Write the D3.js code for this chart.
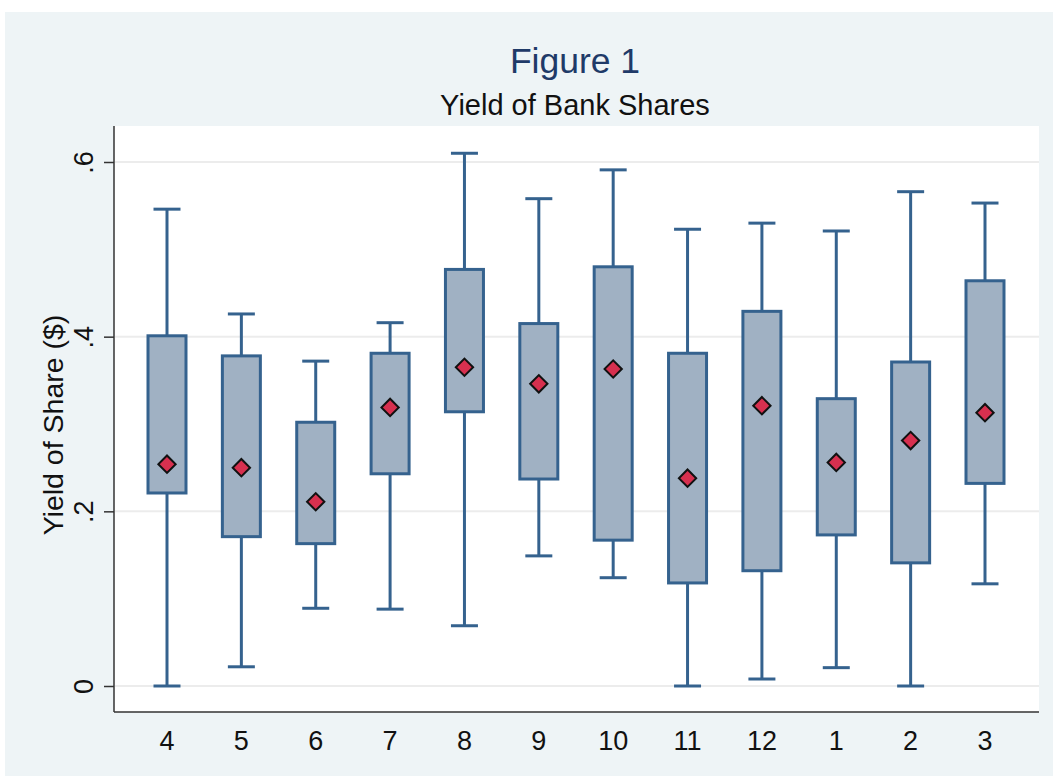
<!DOCTYPE html>
<html>
<head>
<meta charset="utf-8">
<script src="https://cdn.jsdelivr.net/npm/d3@7"></script>
<style>
  body { margin: 0; background: #fff; }
  text { font-family: "Liberation Sans", Arial, sans-serif; }
</style>
</head>
<body>
<div id="chart"></div>
<script>
// months in fiscal order
const months = ["4", "5", "6", "7", "8", "9", "10", "11", "12", "1", "2", "3"];
const whiskerLow  = [0, 0.022, 0.089, 0.088, 0.069, 0.149, 0.124, 0, 0.008, 0.021, 0, 0.117];
const q1          = [0.221, 0.171, 0.163, 0.243, 0.314, 0.237, 0.167, 0.118, 0.132, 0.173, 0.141, 0.232];
const q3          = [0.401, 0.378, 0.302, 0.381, 0.477, 0.415, 0.480, 0.381, 0.429, 0.329, 0.371, 0.464];
const whiskerHigh = [0.546, 0.426, 0.372, 0.416, 0.610, 0.558, 0.591, 0.523, 0.530, 0.521, 0.566, 0.553];
const means       = [0.254, 0.250, 0.211, 0.319, 0.365, 0.346, 0.363, 0.238, 0.321, 0.256, 0.281, 0.313];
const yTicks = [0, 0.2, 0.4, 0.6];

const width = 1053, height = 776;
const margin = {top: 126, right: 14, bottom: 64, left: 114};

const svg = d3.select("#chart")
  .append("svg")
    .attr("width", width)
    .attr("height", height);

// outer graph region
svg.append("rect")
  .attr("x", 5).attr("y", 12)
  .attr("width", width - 5).attr("height", height - 12)
  .attr("fill", "#eef4f6");

svg.append("rect")
  .attr("x", margin.left).attr("y", margin.top)
  .attr("width", width - margin.left - margin.right)
  .attr("height", height - margin.top - margin.bottom)
  .attr("fill", "#fff");

const x = d3.scaleBand()
  .domain(months)
  .range([148, 1004])
  .paddingInner(0.489)
  .paddingOuter(0);

const y = d3.scaleLinear()
  .domain([0, 0.6])
  .range([686, 162]);

// gridlines
svg.append("g")
  .selectAll("line")
  .data(yTicks)
  .join("line")
    .attr("x1", margin.left + 1)
    .attr("x2", width - margin.right)
    .attr("y1", d => y(d))
    .attr("y2", d => y(d))
    .attr("stroke", "#ececec")
    .attr("stroke-width", 2);

// y axis
const yAxis = svg.append("g")
  .attr("transform", `translate(${margin.left},0)`)
  .call(d3.axisLeft(y)
          .tickValues(yTicks)
          .tickSize(10)
          .tickPadding(0)
          .tickFormat(d => d === 0 ? "0" : d3.format(".1f")(d).replace(/^0/, "")));
yAxis.attr("font-size", null).attr("font-family", null);
yAxis.select(".domain")
  .attr("d", `M0,${margin.top}V${height - margin.bottom}`)
  .attr("stroke", "#333").attr("stroke-width", 1.5);
yAxis.selectAll(".tick line").attr("stroke", "#333").attr("stroke-width", 1.5);
yAxis.selectAll(".tick text")
  .attr("x", 0).attr("dy", 0)
  .attr("transform", "translate(-21,0) rotate(-90)")
  .attr("text-anchor", "middle")
  .attr("fill", "#111")
  .style("font-size", "27px");

// x axis
const xAxis = svg.append("g")
  .attr("transform", `translate(0,${height - margin.bottom})`)
  .call(d3.axisBottom(x).tickSize(0).tickPadding(0));
xAxis.attr("font-size", null).attr("font-family", null);
xAxis.select(".domain")
  .attr("d", `M${margin.left},0H${width - margin.right}`)
  .attr("stroke", "#333").attr("stroke-width", 1.5);
xAxis.selectAll(".tick text")
  .attr("y", 38).attr("dy", 0)
  .attr("fill", "#111")
  .style("font-size", "27px");

// titles
svg.append("text")
  .attr("x", 575).attr("y", 73)
  .attr("text-anchor", "middle")
  .style("font-size", "35.5px")
  .attr("fill", "#1f3a68")
  .text("Figure 1");

svg.append("text")
  .attr("x", 575).attr("y", 115)
  .attr("text-anchor", "middle")
  .style("font-size", "29px")
  .attr("fill", "#111")
  .text("Yield of Bank Shares");

svg.append("text")
  .attr("transform", "translate(63,425) rotate(-90)")
  .attr("text-anchor", "middle")
  .style("font-size", "28.5px")
  .attr("fill", "#111")
  .text("Yield of Share ($)");

// boxes
const stroke = "#35628e";
const boxes = svg.append("g")
  .selectAll("g")
  .data(months.map((m, i) => ({m, lo: whiskerLow[i], q1: q1[i], q3: q3[i], hi: whiskerHigh[i], mean: means[i]})))
  .join("g")
    .attr("transform", d => `translate(${x(d.m) + x.bandwidth() / 2},0)`);

const capW = 13.5;

boxes.append("line")
  .attr("y1", d => y(d.hi)).attr("y2", d => y(d.q3))
  .attr("stroke", stroke).attr("stroke-width", 3);
boxes.append("line")
  .attr("y1", d => y(d.lo)).attr("y2", d => y(d.q1))
  .attr("stroke", stroke).attr("stroke-width", 3);
boxes.append("line")
  .attr("x1", -capW).attr("x2", capW)
  .attr("y1", d => y(d.hi)).attr("y2", d => y(d.hi))
  .attr("stroke", stroke).attr("stroke-width", 3);
boxes.append("line")
  .attr("x1", -capW).attr("x2", capW)
  .attr("y1", d => y(d.lo)).attr("y2", d => y(d.lo))
  .attr("stroke", stroke).attr("stroke-width", 3);

boxes.append("rect")
  .attr("x", -x.bandwidth() / 2)
  .attr("width", x.bandwidth())
  .attr("y", d => y(d.q3))
  .attr("height", d => y(d.q1) - y(d.q3))
  .attr("fill", "#a0b1c3")
  .attr("stroke", stroke)
  .attr("stroke-width", 3);

// mean markers
boxes.append("path")
  .attr("d", d3.symbol().type(d3.symbolSquare).size(150))
  .attr("transform", d => `translate(0,${y(d.mean)}) rotate(45)`)
  .attr("fill", "#d7304f")
  .attr("stroke", "#111")
  .attr("stroke-width", 2);
</script>
</body>
</html>
